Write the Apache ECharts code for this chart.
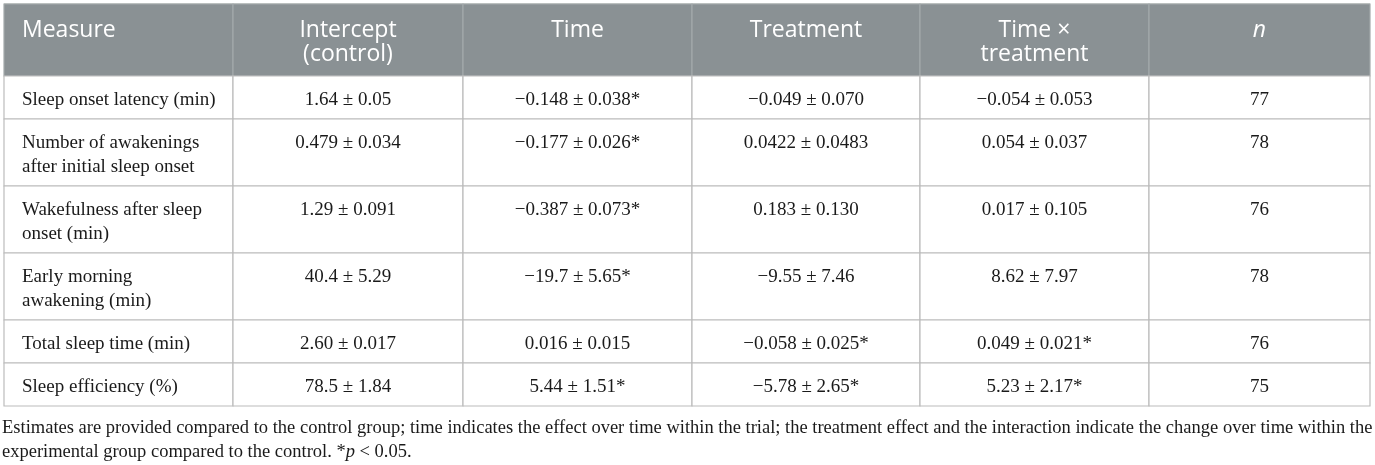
<!DOCTYPE html>
<html>
<head>
<meta charset="utf-8">
<script src="https://cdn.jsdelivr.net/npm/echarts@6/dist/echarts.min.js"></script>
<style>
  html, body { margin: 0; padding: 0; background: #fff; }
  #table { width: 1375px; height: 465px; }
</style>
</head>
<body>
<div id="table"></div>
<script>
// table content
var headers = ['Measure', 'Intercept\n(control)', 'Time', 'Treatment', 'Time \u00d7\ntreatment', 'n'];
var measures = [
  'Sleep onset latency (min)',
  'Number of awakenings\nafter initial sleep onset',
  'Wakefulness after sleep\nonset (min)',
  'Early morning\nawakening (min)',
  'Total sleep time (min)',
  'Sleep efficiency (%)'
];
var intercept = ['1.64 \u00b1 0.05', '0.479 \u00b1 0.034', '1.29 \u00b1 0.091', '40.4 \u00b1 5.29', '2.60 \u00b1 0.017', '78.5 \u00b1 1.84'];
var timeEffect = ['\u22120.148 \u00b1 0.038*', '\u22120.177 \u00b1 0.026*', '\u22120.387 \u00b1 0.073*', '\u221219.7 \u00b1 5.65*', '0.016 \u00b1 0.015', '5.44 \u00b1 1.51*'];
var treatment = ['\u22120.049 \u00b1 0.070', '0.0422 \u00b1 0.0483', '0.183 \u00b1 0.130', '\u22129.55 \u00b1 7.46', '\u22120.058 \u00b1 0.025*', '\u22125.78 \u00b1 2.65*'];
var interaction = ['\u22120.054 \u00b1 0.053', '0.054 \u00b1 0.037', '0.017 \u00b1 0.105', '8.62 \u00b1 7.97', '0.049 \u00b1 0.021*', '5.23 \u00b1 2.17*'];
var nValues = [77, 78, 76, 78, 76, 75];
var footnote1 = 'Estimates are provided compared to the control group; time indicates the effect over time within the trial; the treatment effect and the interaction indicate the change over time within the';
var footnote2 = 'experimental group compared to the control. *{i|p} < 0.05.';

// layout
var colWidths = [229, 230, 229, 228, 229, 221];
var headerHeight = 72;
var lineH = 24;
var rowPad = 19;
var serif = '"Liberation Serif", "Times New Roman", serif';
var sans = '"Open Sans", "Noto Sans", sans-serif';

var dom = document.getElementById('table');
var chart = echarts.init(dom);

var colStart = [0];
colWidths.forEach(function (w, i) { colStart.push(colStart[i] + w); });
var totalW = colStart[colStart.length - 1];

var rowTop = [0, headerHeight];
measures.forEach(function (m, i) {
  var lines = m.split('\n').length;
  rowTop.push(rowTop[i + 1] + rowPad + lines * lineH);
});
var totalH = rowTop[rowTop.length - 1];

var columns = [measures, intercept, timeEffect, treatment, interaction, nValues];
var cells = [];
headers.forEach(function (h, c) {
  cells.push([colStart[c], rowTop[0], colStart[c + 1], rowTop[1], 0, c, h]);
});
measures.forEach(function (m, r) {
  columns.forEach(function (col, c) {
    cells.push([colStart[c], rowTop[r + 1], colStart[c + 1], rowTop[r + 2], r + 1, c, String(col[r])]);
  });
});

function renderCell(params, api) {
  var p0 = api.coord([api.value(0), api.value(1)]);
  var p1 = api.coord([api.value(2), api.value(3)]);
  var row = api.value(4);
  var col = api.value(5);
  var text = cells[params.dataIndex][6];
  var isHead = row === 0;
  var left = col === 0;
  return {
    type: 'group',
    children: [
      {
        type: 'rect',
        shape: { x: p0[0], y: p0[1], width: p1[0] - p0[0], height: p1[1] - p0[1] },
        style: {
          fill: isHead ? '#8a9194' : '#fff',
          stroke: isHead ? '#a3a9ab' : '#bcbcbc',
          lineWidth: 1.2
        }
      },
      {
        type: 'text',
        style: {
          text: text,
          x: left ? p0[0] + 18 : (p0[0] + p1[0]) / 2,
          y: p0[1] + (isHead ? 14 : 12),
          align: left ? 'left' : 'center',
          verticalAlign: 'top',
          lineHeight: lineH,
          fill: isHead ? '#fff' : '#1a1a1a',
          fontSize: isHead ? 23 : 19,
          fontFamily: isHead ? sans : serif,
          fontStyle: (isHead && text === 'n') ? 'italic' : 'normal'
        }
      }
    ]
  };
}

var option = {
  animation: false,
  grid: { left: 4, top: 4, width: totalW, height: totalH },
  xAxis: { type: 'value', min: 0, max: totalW, show: false },
  yAxis: { type: 'value', min: 0, max: totalH, inverse: true, show: false },
  series: [
    {
      type: 'custom',
      silent: true,
      clip: false,
      renderItem: renderCell,
      encode: { x: [0, 2], y: [1, 3] },
      data: cells
    }
  ],
  graphic: [
    {
      type: 'line',
      silent: true,
      shape: { x1: 4, y1: 4, x2: 4 + totalW, y2: 4 },
      style: { stroke: '#c4cac4', lineWidth: 1.5 }
    },
    {
      type: 'text',
      left: 2,
      top: 416,
      silent: true,
      style: {
        text: footnote1 + '\n' + footnote2,
        fill: '#1a1a1a',
        font: '18.5px ' + serif,
        lineHeight: 24,
        rich: {
          i: { fontStyle: 'italic', fontSize: 18.5, fontFamily: serif, fill: '#1a1a1a' }
        }
      }
    }
  ]
};
chart.setOption(option);
</script>
</body>
</html>
